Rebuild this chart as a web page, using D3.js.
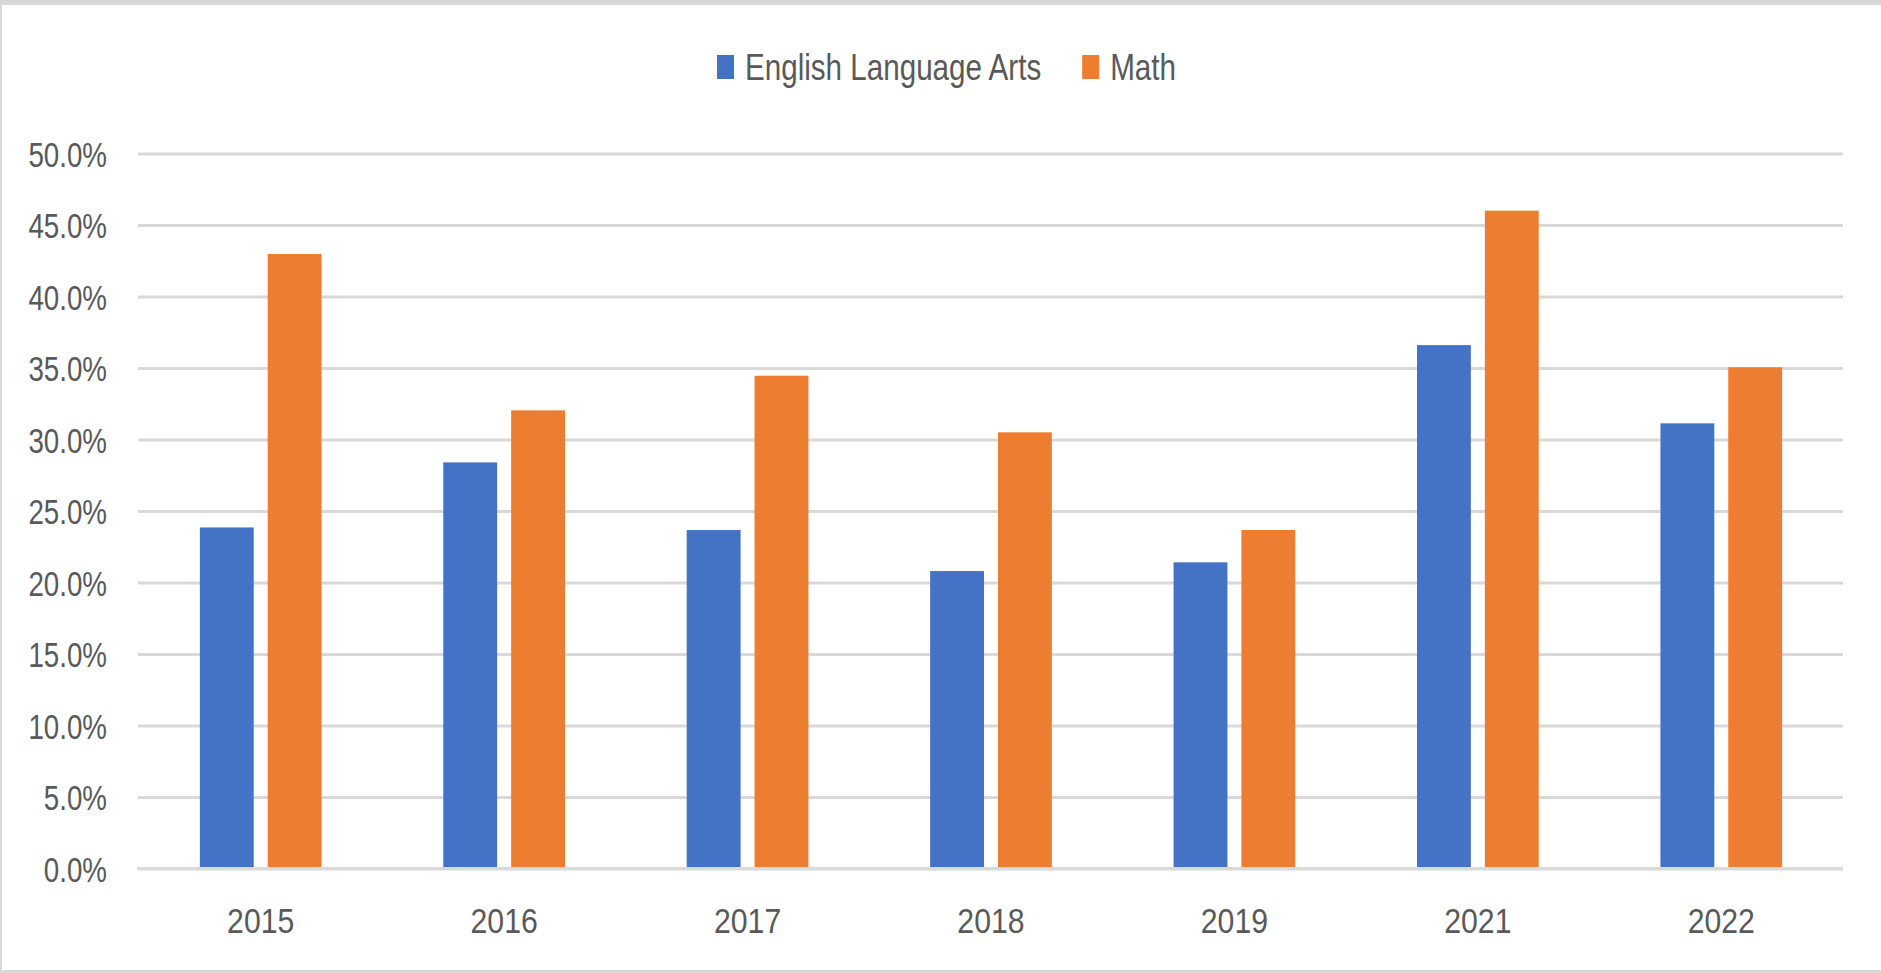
<!DOCTYPE html>
<html>
<head>
<meta charset="utf-8">
<script src="https://cdn.jsdelivr.net/npm/d3@7"></script>
<style>
  body { margin: 0; background: #fff; }
  text { font-family: "Liberation Sans", Arial, sans-serif; fill: #595959; }
</style>
</head>
<body>
<div id="chart"></div>
<script>
var years = ["2015", "2016", "2017", "2018", "2019", "2021", "2022"];
var seriesNames = ["English Language Arts", "Math"];
var elaValues = [0.2385, 0.284, 0.2367, 0.208, 0.2141, 0.366, 0.3113];
var mathValues = [0.4297, 0.3204, 0.3446, 0.305, 0.2367, 0.460, 0.3505];
var yTicks = [0, 0.05, 0.10, 0.15, 0.20, 0.25, 0.30, 0.35, 0.40, 0.45, 0.50];
var colors = ["#4472C4", "#ED7D31"];

var width = 1881;
var height = 973;
var fontSize = 36;
// text in the picture is narrow, so squeeze it sideways
var squeezeY = 0.77;
var squeezeX = 0.84;
var squeezeLegend = 0.80;

var rows = years.map(function (y, i) {
  return { year: y, values: [elaValues[i], mathValues[i]] };
});

/* Scale */
var x0 = d3.scaleBand()
  .domain(years)
  .range([139, 1843]);

var x1 = d3.scaleBand()
  .domain(d3.range(seriesNames.length))
  .range([x0.bandwidth() * 0.25, x0.bandwidth() * 0.75])
  .paddingInner(0.206);

var yScale = d3.scaleLinear()
  .domain([0, 0.5])
  .range([868.5, 153.5]);

/* Add SVG */
var svg = d3.select("#chart").append("svg")
  .attr("width", width)
  .attr("height", height);

svg.append("rect")
  .attr("width", width)
  .attr("height", height)
  .attr("fill", "#fff");

// frame
svg.append("rect").attr("x", 0).attr("y", 0).attr("width", width).attr("height", 5).attr("fill", "#d9d9d9");
svg.append("rect").attr("x", 0).attr("y", 0).attr("width", 2).attr("height", height).attr("fill", "#d9d9d9");
svg.append("rect").attr("x", 0).attr("y", height - 3).attr("width", width).attr("height", 3).attr("fill", "#d9d9d9");

/* Gridlines + y axis */
var yAxis = d3.axisLeft(yScale)
  .tickValues(yTicks)
  .tickFormat(d3.format(".1%"))
  .tickSize(-(1843 - 138))
  .tickPadding(0);

var yG = svg.append("g")
  .attr("class", "y axis")
  .attr("transform", "translate(138,0)")
  .call(yAxis);

yG.select(".domain").remove();
yG.selectAll("line")
  .attr("stroke", "#d9d9d9")
  .attr("stroke-width", 3);
yG.selectAll("text")
  .attr("x", 0)
  .attr("dy", "0.35em")
  .attr("transform", "translate(-31,0) scale(" + squeezeY + ",1)")
  .style("font-size", fontSize + "px")
  .attr("fill", "#595959");

/* Bars */
var groups = svg.append("g")
  .selectAll("g")
  .data(rows).enter()
  .append("g")
  .attr("transform", d => `translate(${x0(d.year)},0)`);

groups.selectAll("rect")
  .data(d => d.values).enter()
  .append("rect")
  .attr("x", (d, i) => x1(i))
  .attr("y", d => yScale(d))
  .attr("width", x1.bandwidth())
  .attr("height", d => yScale(0) - yScale(d))
  .attr("fill", (d, i) => colors[i]);

/* x axis */
var xAxis = d3.axisBottom(x0).tickSize(0).tickPadding(0);

var xG = svg.append("g")
  .attr("class", "x axis")
  .attr("transform", `translate(0, ${yScale(0)})`)
  .call(xAxis);

xG.select(".domain")
  .attr("stroke", "#d9d9d9")
  .attr("stroke-width", 3)
  .attr("d", "M-1,0H1705");
xG.select(".domain").attr("transform", "translate(138,0)");
xG.selectAll("text")
  .attr("y", 0)
  .attr("dy", 0)
  .attr("transform", "translate(0,64.5) scale(" + squeezeX + ",1)")
  .style("font-size", fontSize + "px")
  .attr("fill", "#595959");

/* Legend */
var legend = svg.append("g").attr("class", "legend");
var lx = 717;
seriesNames.forEach(function (name, i) {
  legend.append("rect")
    .attr("x", lx)
    .attr("y", 55)
    .attr("width", 17)
    .attr("height", 24)
    .attr("fill", colors[i]);
  var t = legend.append("text")
    .attr("transform", `translate(${lx + 28},80) scale(${squeezeLegend},1)`)
    .style("font-size", "37px")
    .text(name);
  lx += 28 + t.node().getComputedTextLength() * squeezeLegend + 41;
});
</script>
</body>
</html>
